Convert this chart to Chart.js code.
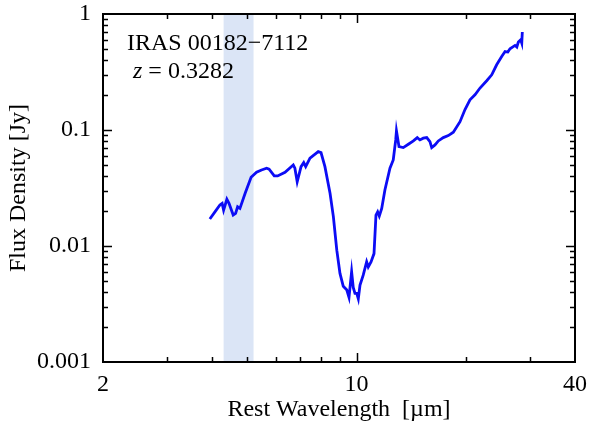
<!DOCTYPE html>
<html>
<head>
<meta charset="utf-8">
<script src="https://cdn.jsdelivr.net/npm/chart.js@4.4.1/dist/chart.umd.min.js"></script>
<style>
  html, body { margin: 0; padding: 0; background: #fff; }
  canvas { display: block; }
</style>
</head>
<body>
<canvas id="sed" width="593" height="427"></canvas>
<script>
// Spitzer IRS spectrum, rest frame
const wavelength = [
  3.94, 4.07, 4.20, 4.26, 4.30, 4.39, 4.45, 4.57, 4.64, 4.70,
  4.77, 4.93, 5.12, 5.30, 5.47, 5.65, 5.74, 5.93, 6.06, 6.35,
  6.69, 6.76, 6.86, 7.03, 7.15, 7.24, 7.44, 7.84, 7.98, 8.18,
  8.45, 8.63, 8.82, 9.00, 9.19, 9.39, 9.53, 9.69, 9.79, 9.90,
  10.01, 10.11, 10.22, 10.43, 10.66, 10.77, 10.96, 11.17, 11.31, 11.43,
  11.55, 11.73, 11.97, 12.36, 12.62, 12.82, 12.88, 13.09, 13.45, 13.89,
  14.34, 14.70, 14.95, 15.27, 15.61, 15.93, 16.11, 16.45, 16.80, 17.34,
  17.90, 18.48, 19.28, 19.90, 20.54, 21.20, 21.89, 22.84, 23.58, 24.33,
  25.12, 25.66, 26.12, 26.48, 27.34, 27.65, 27.92, 28.34, 28.53, 28.63
];
const flux = [
  0.0171, 0.0197, 0.0226, 0.0233, 0.0204, 0.0253, 0.0233, 0.0185, 0.0191, 0.0218,
  0.0211, 0.0285, 0.0391, 0.0432, 0.0452, 0.0468, 0.0459, 0.0402, 0.0402, 0.0432,
  0.0500, 0.0468, 0.0358, 0.0483, 0.0523, 0.0483, 0.0571, 0.0651, 0.0638, 0.0483,
  0.0285, 0.0179, 0.0092, 0.0058, 0.0045, 0.0042, 0.0036, 0.0060, 0.0044, 0.0039,
  0.0039, 0.0035, 0.0046, 0.0056, 0.0073, 0.0066, 0.0073, 0.0086, 0.0185, 0.0197,
  0.0181, 0.0211, 0.0304, 0.0468, 0.0552, 0.0821, 0.0982, 0.0719, 0.0705, 0.0754,
  0.0805, 0.0860, 0.0821, 0.0850, 0.0860, 0.0794, 0.0705, 0.0743, 0.0805, 0.0860,
  0.0895, 0.0957, 0.118, 0.150, 0.182, 0.201, 0.230, 0.266, 0.299, 0.365,
  0.430, 0.475, 0.470, 0.502, 0.536, 0.520, 0.573, 0.600, 0.562, 0.699
];

// axis ticks
const xLabels = [2, 10, 40];
const xMajor = [10];
const xMinor = [3, 4, 5, 6, 7, 8, 9, 20, 30];
const yLabels = [0.001, 0.01, 0.1, 1];
const yDecades = [0.001, 0.01, 0.1];
const yMinorSteps = [2, 3, 4, 5, 6, 7, 8, 9];

// shaded wavelength band
const band = [4.3, 5.2];

const sourceName = 'IRAS 00182\u22127112';
const redshift = '0.3282';

const SERIF = "'Liberation Serif', 'Times New Roman', serif";
const tickFont = { family: SERIF, size: 24 };

const points = wavelength.map((w, i) => ({ x: w, y: flux[i] }));

// light blue band behind the spectrum
const bandPlugin = {
  id: 'band',
  beforeDatasetsDraw(chart) {
    const { ctx, chartArea, scales } = chart;
    const x0 = scales.x.getPixelForValue(band[0]);
    const x1 = scales.x.getPixelForValue(band[1]);
    ctx.save();
    ctx.fillStyle = '#dbe5f6';
    ctx.fillRect(x0, chartArea.top, x1 - x0, chartArea.bottom - chartArea.top);
    ctx.restore();
  }
};

// frame, inward ticks on all four sides, and the source label
const framePlugin = {
  id: 'frame',
  afterDraw(chart) {
    const { ctx, chartArea: a, scales } = chart;
    ctx.save();
    ctx.strokeStyle = '#000';

    ctx.lineWidth = 1.5;
    const xTick = (v, len) => {
      const px = Math.round(scales.x.getPixelForValue(v)) + 0.5;
      ctx.beginPath();
      ctx.moveTo(px, a.bottom); ctx.lineTo(px, a.bottom - len);
      ctx.moveTo(px, a.top); ctx.lineTo(px, a.top + len);
      ctx.stroke();
    };
    const yTick = (v, len) => {
      const py = Math.round(scales.y.getPixelForValue(v)) + 0.5;
      ctx.beginPath();
      ctx.moveTo(a.left, py); ctx.lineTo(a.left + len, py);
      ctx.moveTo(a.right, py); ctx.lineTo(a.right - len, py);
      ctx.stroke();
    };
    xMinor.forEach(v => xTick(v, 5));
    xMajor.forEach(v => xTick(v, 9));
    yDecades.forEach(d => {
      yMinorSteps.forEach(m => yTick(d * m, 5));
    });
    yLabels.slice(1, -1).forEach(v => yTick(v, 9));

    ctx.lineWidth = 2;
    ctx.strokeRect(a.left, a.top, a.right - a.left, a.bottom - a.top);

    ctx.fillStyle = '#000';
    ctx.textBaseline = 'alphabetic';
    ctx.textAlign = 'left';
    ctx.font = `24px ${SERIF}`;
    ctx.fillText(sourceName, a.left + 24, a.top + 36);
    ctx.font = `italic 24px ${SERIF}`;
    const zx = a.left + 30;
    ctx.fillText('z', zx, a.top + 64);
    const zw = ctx.measureText('z').width;
    ctx.font = `24px ${SERIF}`;
    ctx.fillText(' = ' + redshift, zx + zw, a.top + 64);
    ctx.restore();
  }
};

new Chart(document.getElementById('sed').getContext('2d'), {
  type: 'line',
  data: {
    datasets: [{
      data: points,
      borderColor: 'rgb(12,12,245)',
      borderWidth: 2.8,
      pointRadius: 0,
      tension: 0,
      fill: false
    }]
  },
  options: {
    responsive: false,
    animation: false,
    layout: { padding: { top: 14, right: 18, left: 0, bottom: 0 } },
    plugins: {
      legend: { display: false },
      tooltip: { enabled: false }
    },
    scales: {
      x: {
        type: 'logarithmic',
        min: 2,
        max: 40,
        bounds: 'data',
        grid: { display: false, drawTicks: false },
        border: { display: false },
        afterBuildTicks: s => { s.ticks = xLabels.map(v => ({ value: v })); },
        afterFit: s => { s.height = 65; s.paddingLeft = 0; s.paddingRight = 0; },
        ticks: {
          autoSkip: false,
          maxRotation: 0,
          padding: 8,
          color: '#000',
          font: tickFont,
          callback: v => String(v)
        },
        title: {
          display: true,
          text: 'Rest Wavelength  [\u00b5m]',
          color: '#000',
          font: tickFont,
          padding: { top: 0, bottom: 3 }
        }
      },
      y: {
        type: 'logarithmic',
        min: 0.001,
        max: 1,
        bounds: 'data',
        grid: { display: false, drawTicks: false },
        border: { display: false },
        afterBuildTicks: s => { s.ticks = yLabels.map(v => ({ value: v })); },
        afterFit: s => { s.width = 103; s.paddingTop = 0; s.paddingBottom = 0; },
        ticks: {
          autoSkip: false,
          padding: 12,
          color: '#000',
          font: tickFont,
          callback: v => String(v)
        },
        title: {
          display: true,
          text: 'Flux Density [Jy]',
          color: '#000',
          font: tickFont,
          padding: { top: 4, bottom: 0 }
        }
      }
    }
  },
  plugins: [bandPlugin, framePlugin]
});
</script>
</body>
</html>
